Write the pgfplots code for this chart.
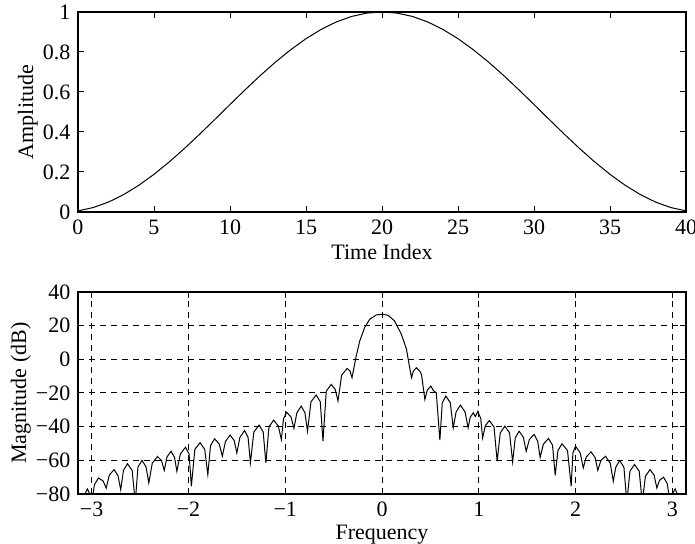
\documentclass[border=0pt]{standalone}
\usepackage{fontspec}
\setmainfont{Liberation Serif}
\usepackage{pgfplots}
\pgfplotsset{compat=1.18}
\begin{document}
\fontsize{11}{13}\selectfont
\begin{tikzpicture}
\path[use as bounding box] (-39pt,-166pt) rectangle (308.5pt,106pt);
\pgfplotsset{
  every axis/.append style={
    font=\fontsize{11}{13}\selectfont,
    scale only axis, width=304pt,
    tick align=inside, major tick length=3pt,
    axis line style={line width=0.6pt, black},
    every tick/.style={black, line width=0.5pt},
    xlabel style={yshift=2.5pt},
    ylabel style={yshift=-5pt},
  }
}
\begin{axis}[
  height=100pt,
  xmin=0, xmax=40, ymin=0, ymax=1,
  xtick={0,5,10,15,20,25,30,35,40},
  xticklabels={0,5,10,15,20,25,30,35,40},
  ytick={0,0.2,0.4,0.6,0.8,1},
  yticklabels={0,0.2,0.4,0.6,0.8,1},
  xlabel={Time Index}, ylabel={Amplitude},
]
\addplot[black, line width=0.5pt] coordinates {
(0,0.0056)(1,0.0222)(2,0.0495)(3,0.0869)(4,0.1335)(5,0.1883)(6,0.2500)(7,0.3173)
(8,0.3887)(9,0.4626)(10,0.5374)(11,0.6113)(12,0.6827)(13,0.7500)(14,0.8117)
(15,0.8665)(16,0.9131)(17,0.9505)(18,0.9778)(19,0.9944)(20,1.0000)(21,0.9944)
(22,0.9778)(23,0.9505)(24,0.9131)(25,0.8665)(26,0.8117)(27,0.7500)(28,0.6827)
(29,0.6113)(30,0.5374)(31,0.4626)(32,0.3887)(33,0.3173)(34,0.2500)(35,0.1883)
(36,0.1335)(37,0.0869)(38,0.0495)(39,0.0222)(40,0.0056)
};
\draw[line width=1.2pt] (rel axis cs:0,0) -- (rel axis cs:1,0);
\end{axis}
\begin{axis}[
  at={(0,-141pt)},
  height=101pt,
  xmin=-3.14159, xmax=3.14159, ymin=-80, ymax=40,
  xtick={-3,-2,-1,0,1,2,3},
  xticklabels={−3,−2,−1,0,1,2,3},
  ytick={-80,-60,-40,-20,0,20,40},
  yticklabels={−80,−60,−40,−20,0,20,40},
  grid=major,
  major grid style={black, line width=0.5pt, dash pattern=on 3pt off 2.5pt},
  xlabel={Frequency}, ylabel={Magnitude (dB)},
  xlabel style={yshift=1pt},
]
\addplot[black, line width=0.5pt] coordinates {
(-3.1416,-80)(-3.07,-80)(-3.045,-77)(-3.02,-80)(-3.00,-85)
(-2.972,-74.5)(-2.93,-70.5)(-2.882,-72.3)(-2.85,-76.5)
(-2.818,-68.8)(-2.77,-65.5)(-2.728,-69.1)(-2.70,-77.5)
(-2.672,-66)(-2.63,-62)(-2.582,-66)(-2.55,-85)
(-2.522,-64)(-2.48,-60)(-2.438,-64)(-2.41,-73.4)
(-2.374,-61.7)(-2.32,-57.7)(-2.278,-60.2)(-2.25,-66)
(-2.222,-58.0)(-2.18,-54.6)(-2.144,-58.2)(-2.12,-66.5)
(-2.084,-56.2)(-2.03,-52.2)(-1.994,-56.2)(-1.97,-75.4)
(-1.934,-53.5)(-1.88,-49.5)(-1.832,-53.5)(-1.80,-68.5)
(-1.772,-51.2)(-1.73,-47.2)(-1.682,-50.3)(-1.65,-57.6)
(-1.618,-48.8)(-1.57,-45)(-1.528,-48.2)(-1.50,-55.6)
(-1.468,-46.3)(-1.42,-42.3)(-1.384,-46.3)(-1.36,-61.5)
(-1.324,-43.1)(-1.27,-39.1)(-1.228,-43.1)(-1.20,-61.5)
(-1.168,-40.1)(-1.12,-36.1)(-1.072,-39.6)(-1.04,-47.6)
(-1.018,-35.4)(-0.985,-31.4)(-0.94,-34.3)(-0.91,-41)
(-0.88,-31.8)(-0.835,-27.8)(-0.796,-31.8)(-0.77,-42.7)
(-0.734,-25.2)(-0.68,-21.2)(-0.638,-25.2)(-0.61,-48.6)
(-0.576,-18.9)(-0.525,-14.9)(-0.483,-17.9)(-0.455,-24.8)
(-0.417,-9.4)(-0.36,-5.4)(-0.33,-7.05)(-0.31,-10.9)
(-0.29,-5)(-0.27,1)(-0.23,10.9)(-0.18,18.8)(-0.127,23.8)(-0.058,26.4)
(0,26.8)(0.062,26.2)(0.13,22.8)(0.20,14.9)(0.253,6)(0.28,-3)(0.305,-10.9)
(0.325,-6.8)(0.356,-5)(0.39,-7)(0.408,-9)(0.443,-23.8)
(0.468,-18.3)(0.505,-15.9)(0.53,-18.5)(0.561,-19.9)(0.598,-48)
(0.623,-25.8)(0.66,-21.8)(0.706,-25.8)(0.736,-40.7)
(0.766,-31.2)(0.81,-27.2)(0.858,-31.2)(0.89,-40.7)
(0.911,-34.5)(0.943,-31.8)(0.965,-34)(0.99,-31)(1.02,-35)(1.04,-46.7)
(1.068,-39.4)(1.11,-36.3)(1.158,-40.3)(1.19,-60.5)
(1.222,-43.7)(1.27,-39.7)(1.318,-43.7)(1.35,-61)
(1.377,-46.7)(1.417,-42.7)(1.461,-46.3)(1.49,-54.6)
(1.523,-47.6)(1.572,-44.6)(1.609,-48.6)(1.634,-58.2)
(1.668,-50.4)(1.72,-47)(1.762,-51)(1.79,-68.9)
(1.818,-54.2)(1.86,-50.2)(1.917,-54.2)(1.955,-75.4)
(1.973,-55.6)(2.0,-51.6)(2.048,-55.5)(2.08,-64.5)
(2.112,-57.9)(2.16,-55)(2.202,-58.3)(2.23,-66)
(2.262,-60.1)(2.31,-57.6)(2.358,-61.6)(2.39,-72.4)
(2.416,-64.1)(2.456,-60.1)(2.5,-64.1)(2.53,-85)
(2.562,-66.5)(2.61,-62.5)(2.658,-66.5)(2.69,-85)
(2.722,-69.5)(2.77,-65.5)(2.812,-68.8)(2.84,-76.4)
(2.868,-71.9)(2.91,-70)(2.949,-74)(2.975,-85)
(3.0,-80)(3.03,-77)(3.05,-80)(3.1416,-80)
};
\draw[line width=1.2pt] (rel axis cs:0,0) -- (rel axis cs:1,0);
\end{axis}
\end{tikzpicture}
\end{document}
